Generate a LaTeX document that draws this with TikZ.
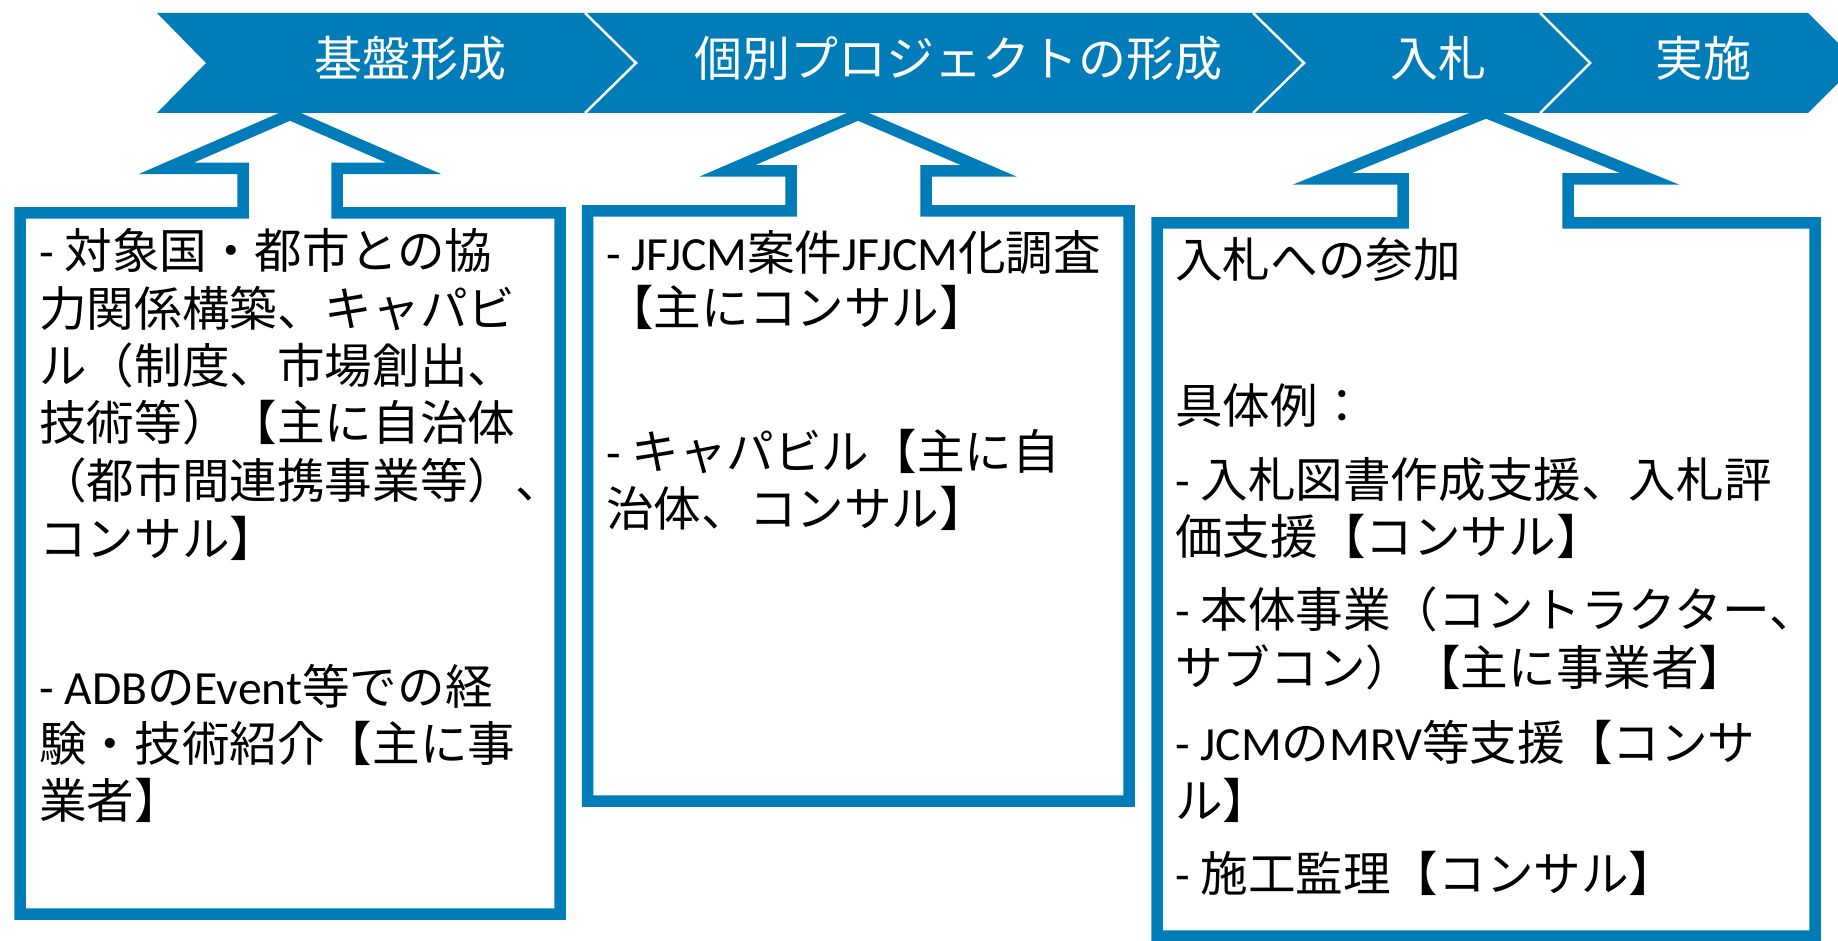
\documentclass[tikz,border=0pt]{standalone}
\usepackage{fontspec}
\setmainfont{Noto Sans CJK JP}
\newfontfamily\jp{Noto Sans CJK JP}
\newfontfamily\lat{Carlito}
\definecolor{jblue}{RGB}{0,125,185}
\begin{document}
\begin{tikzpicture}[x=1pt,y=-1pt,
  outline/.style={draw=jblue, line width=11.5pt, line join=miter, miter limit=10, fill=white},
  chev/.style={fill=jblue},
  sep/.style={draw=white, line width=2.5pt},
  bandtxt/.style={text=white, font=\jp\fontsize{48}{56}\selectfont, anchor=base, inner sep=0pt},
  body/.style={text=black, font=\jp\fontsize{47.6}{57}\selectfont, anchor=base west, inner sep=0pt}]
\useasboundingbox (0,0) rectangle (1838,941);
\clip (0,0) rectangle (1838,941);

% boxes joined with hollow up-arrows
\draw[outline] (20,213) -- (243,213) -- (243,168.5) -- (166,168.5) -- (290,114.5) -- (414,168.5) -- (337,168.5) -- (337,213) -- (560,213) -- (560,914) -- (20,914) -- cycle;
\draw[outline] (587.5,211) -- (791,211) -- (791,171) -- (727,171) -- (858,114.5) -- (989,171) -- (926,171) -- (926,211) -- (1129,211) -- (1129,801) -- (587.5,801) -- cycle;
\draw[outline] (1157,223) -- (1403,223) -- (1403,179) -- (1322,179) -- (1486,112.5) -- (1650,179) -- (1568,179) -- (1568,223) -- (1815,223) -- (1815,936) -- (1157,936) -- cycle;

% chevron band
\fill[chev] (157,13) -- (585,13) -- (636,63) -- (585,113) -- (157,113) -- (206,63) -- cycle;
\fill[chev] (585,13) -- (1253,13) -- (1304,63) -- (1253,113) -- (585,113) -- (636,63) -- cycle;
\fill[chev] (1253,13) -- (1540,13) -- (1590,63) -- (1540,113) -- (1253,113) -- (1304,63) -- cycle;
\fill[chev] (1540,13) -- (1808,13) -- (1858,63) -- (1808,113) -- (1540,113) -- (1590,63) -- cycle;
\draw[sep] (585,13) -- (636,63) -- (585,113);
\draw[sep] (1253,13) -- (1304,63) -- (1253,113);
\draw[sep] (1540,13) -- (1590,63) -- (1540,113);

\node[bandtxt] (s1) at (410,77) {基盤形成};
\node[bandtxt] (s2) at (958,77) {個別プロジェクトの形成};
\node[bandtxt] (s3) at (1438,77) {入札};
\node[bandtxt] (s4) at (1703,77) {実施};

% box 1
\node[body] (a1) at (39,269) {{\lat - }対象国・都市との協};
\node[body] (a2) at (39,326) {力関係構築、キャパビ};
\node[body] (a3) at (39,383) {ル（制度、市場創出、};
\node[body] (a4) at (39,440) {技術等）【主に自治体};
\node[body] (a5) at (39,498) {（都市間連携事業等）、};
\node[body] (a6) at (39,556) {コンサル】};
\node[body] (a7) at (39,704) {{\lat - ADB}の{\lat Event}等での経};
\node[body] (a8) at (39,761) {験・技術紹介【主に事};
\node[body] (a9) at (39,818) {業者】};

% box 2
\node[body] (b1) at (606,271) {{\lat - JFJCM}案件{\lat JFJCM}化調査};
\node[body] (b2) at (606,325) {【主にコンサル】};
\node[body] (b3) at (606,469) {{\lat - }キャパビル【主に自};
\node[body] (b4) at (606,526) {治体、コンサル】};

% box 3
\node[body] (c1) at (1175,277) {入札への参加};
\node[body] (c2) at (1175,423) {具体例：};
\node[body] (c3) at (1175,497) {{\lat - }入札図書作成支援、入札評};
\node[body] (c4) at (1175,554) {価支援【コンサル】};
\node[body] (c5) at (1175,627) {{\lat - }本体事業（コントラクター、};
\node[body] (c6) at (1175,685) {サブコン）【主に事業者】};
\node[body] (c7) at (1175,760) {{\lat - JCM}の{\lat MRV}等支援【コンサ};
\node[body] (c8) at (1175,818) {ル】};
\node[body] (c9) at (1175,891) {{\lat - }施工監理【コンサル】};
\end{tikzpicture}
\end{document}
